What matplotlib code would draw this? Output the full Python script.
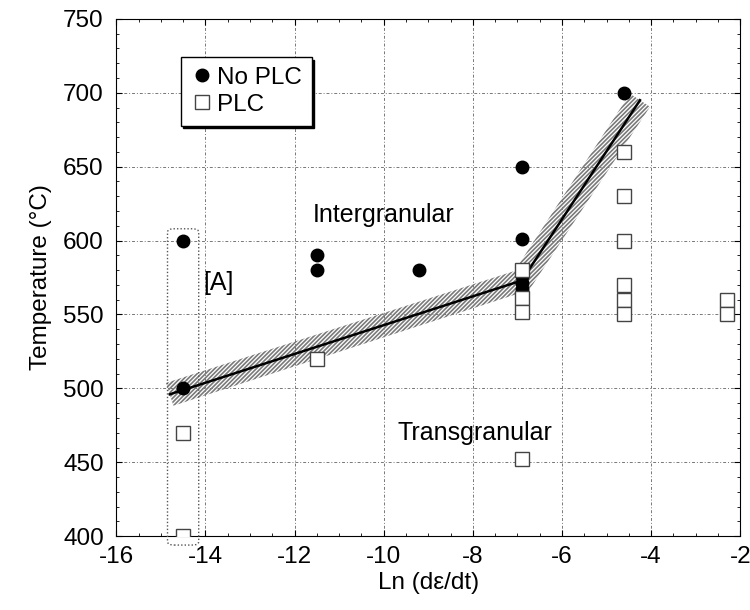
import numpy as np
import matplotlib
matplotlib.use("Agg")
from matplotlib import pyplot as plt
from matplotlib.patches import Polygon, FancyBboxPatch
from matplotlib.ticker import MultipleLocator

plt.rcParams['font.family'] = ['Liberation Sans', 'DejaVu Sans']
plt.rcParams['axes.unicode_minus'] = False

# data
noplc_x = [-14.5, -14.5, -11.5, -11.5, -9.2, -6.9, -6.9, -6.9, -6.9, -6.9, -4.6]
noplc_y = [600, 500, 590, 580, 580, 650, 601, 576, 571, 567, 700]
plc_x = [-14.5, -14.5, -11.5, -6.9, -6.9, -6.9, -6.9, -4.6, -4.6, -4.6, -4.6, -4.6, -4.6, -2.3, -2.3]
plc_y = [470, 400, 520, 580, 561, 552, 452, 660, 630, 600, 570, 560, 550, 560, 550]
fit_x = [-14.8, -6.9, -4.25]
fit_y = [496, 573, 695]

fig = plt.figure(figsize=(7.5, 6.1), dpi=100)
ax = fig.add_axes([0.155, 0.121, 0.832, 0.848])
ax.set_xlim(-16, -2)
ax.set_ylim(400, 750)

# hatched band around the fitted line, offset in pixel space
fig.canvas.draw()
pts = ax.transData.transform(np.column_stack([fit_x, fit_y]))
half = 12.0
upper, lower = [], []
for i in range(len(pts)):
    if i == 0:
        d = pts[1] - pts[0]
    elif i == len(pts) - 1:
        d = pts[-1] - pts[-2]
    else:
        d1 = (pts[i] - pts[i-1]) / np.linalg.norm(pts[i] - pts[i-1])
        d2 = (pts[i+1] - pts[i]) / np.linalg.norm(pts[i+1] - pts[i])
        d = d1 + d2
    d = d / np.linalg.norm(d)
    n = np.array([-d[1], d[0]])
    upper.append(pts[i] + n * half)
    lower.append(pts[i] - n * half)
band = np.vstack([upper, lower[::-1]])
band = ax.transData.inverted().transform(band)
plt.rcParams['hatch.linewidth'] = 1.2
ax.add_patch(Polygon(band, closed=True, facecolor='none', edgecolor='#7a7a7a',
                     hatch='////////', linewidth=0, zorder=2))

ax.plot(fit_x, fit_y, color='black', lw=1.8, zorder=3)

ax.plot(noplc_x, noplc_y, 'o', color='black', ms=9, zorder=4, label='No PLC')
ax.plot(plc_x, plc_y, 's', mfc='white', mec='#444444', mew=1.0, ms=9.5,
        zorder=4, label='PLC')

# dotted rounded box around group [A]
ax.add_patch(FancyBboxPatch((-14.85, 394), 0.7, 214,
                            boxstyle='round,pad=0,rounding_size=0.15',
                            mutation_aspect=15,
                            fill=False, ls=(0, (1, 1.5)), lw=1.0, ec='#555555',
                            zorder=3, clip_on=False))

ax.text(-10.0, 617, 'Intergranular', fontsize=18, ha='center', va='center')
ax.text(-7.95, 470, 'Transgranular', fontsize=18, ha='center', va='center')
ax.text(-13.7, 571, '[A]', fontsize=18, ha='center', va='center')

ax.grid(True, color='#777777', ls=(0, (3, 2, 1, 2)), lw=0.7)
ax.set_axisbelow(True)
ax.xaxis.set_major_locator(MultipleLocator(2))
ax.yaxis.set_major_locator(MultipleLocator(50))
ax.xaxis.set_minor_locator(MultipleLocator(0.5))
ax.yaxis.set_minor_locator(MultipleLocator(10))
ax.tick_params(which='both', direction='in', top=True, right=True, labelsize=17.5)
ax.tick_params(which='major', length=4)
ax.tick_params(which='minor', length=2)
ax.tick_params(axis='x', pad=7)
ax.tick_params(axis='y', pad=9)

ax.set_xlabel('Ln (dε/dt)', fontsize=17.5, labelpad=3)
ax.set_ylabel('Temperature (°C)', fontsize=17.5, labelpad=8)

leg = ax.legend(loc='upper left', bbox_to_anchor=(0.103, 0.926), fontsize=17.5,
                frameon=True, fancybox=False, shadow={'color': 'black', 'alpha': 1},
                handletextpad=0.1, borderpad=0.4, handlelength=1.0,
                labelspacing=0.2, borderaxespad=0)
leg.get_frame().set_edgecolor('black')
leg.get_frame().set_linewidth(1.0)

fig.savefig('out.png', dpi=100)
